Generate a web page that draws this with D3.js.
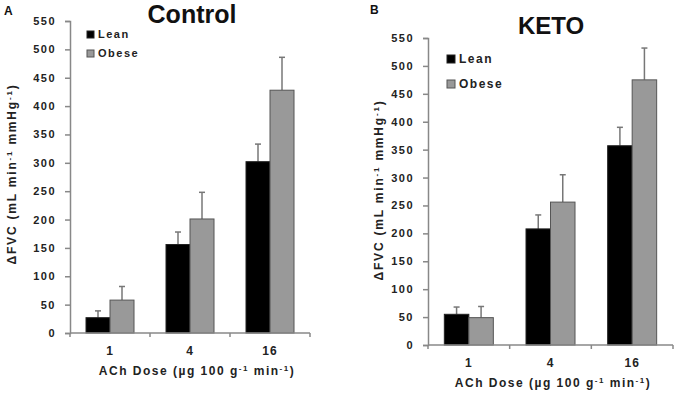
<!DOCTYPE html>
<html>
<head>
<meta charset="utf-8">
<script src="https://cdn.jsdelivr.net/npm/d3@7"></script>
<style>
  body { margin: 0; background: #fff; }
  svg text { font-family: Arial, "Liberation Sans", sans-serif; font-weight: bold; }
</style>
</head>
<body>
<div id="chart-container"></div>
<script>
// values
const doses = ["1", "4", "16"]
const groups = ["Lean", "Obese"]
const yTicks = [0, 50, 100, 150, 200, 250, 300, 350, 400, 450, 500, 550]

const controlLean = [27, 156, 302]
const controlLeanErr = [12, 22, 31]
const controlObese = [58, 201, 428]
const controlObeseErr = [24, 47, 58]

const ketoLean = [55, 208, 357]
const ketoLeanErr = [13, 25, 33]
const ketoObese = [49, 256, 475]
const ketoObeseErr = [20, 49, 57]

const colors = { Lean: "#000", Obese: "#999" }
const strokes = { Lean: "#222", Obese: "#555" }

const svg = d3.select("#chart-container")
  .append("svg")
    .attr("width", 680)
    .attr("height", 396)

function drawPanel(opt) {
  const y = d3.scaleLinear().domain([0, 550]).range([opt.y0, opt.y1])
  const x = d3.scaleBand()
    .domain(doses)
    .range([opt.x0, opt.x1])
    .paddingInner(0.4)
    .paddingOuter(0.2)
  const xs = d3.scaleBand().domain(groups).range([0, x.bandwidth()])

  const g = svg.append("g")

  // rows for bars
  const rows = []
  doses.forEach((d, i) => {
    rows.push({ dose: d, grp: "Lean", v: opt.lean[i], e: opt.leanErr[i] })
    rows.push({ dose: d, grp: "Obese", v: opt.obese[i], e: opt.obeseErr[i] })
  })

  // error bars first (behind bars)
  const eb = g.selectAll(".err").data(rows).join("g")
  eb.append("line")
    .attr("x1", d => x(d.dose) + xs(d.grp) + xs.bandwidth() / 2)
    .attr("x2", d => x(d.dose) + xs(d.grp) + xs.bandwidth() / 2)
    .attr("y1", d => y(d.v))
    .attr("y2", d => y(d.v + d.e))
    .attr("stroke", "#777").attr("stroke-width", 1.5)
  eb.append("line")
    .attr("x1", d => x(d.dose) + xs(d.grp) + xs.bandwidth() / 2 - 3)
    .attr("x2", d => x(d.dose) + xs(d.grp) + xs.bandwidth() / 2 + 3)
    .attr("y1", d => y(d.v + d.e))
    .attr("y2", d => y(d.v + d.e))
    .attr("stroke", "#777").attr("stroke-width", 1.5)

  g.selectAll(".bar").data(rows).join("rect")
    .attr("x", d => x(d.dose) + xs(d.grp))
    .attr("y", d => y(d.v))
    .attr("width", xs.bandwidth())
    .attr("height", d => y(0) - y(d.v))
    .attr("fill", d => colors[d.grp])
    .attr("stroke", d => strokes[d.grp])
    .attr("stroke-width", 1)

  // y axis
  const yAx = g.append("g")
    .attr("transform", `translate(${opt.x0},0)`)
    .call(d3.axisLeft(y).tickValues(yTicks).tickSize(5).tickPadding(9))
  yAx.select(".domain").attr("stroke", "#888").attr("stroke-width", 1.5)
  yAx.selectAll(".tick line").attr("stroke", "#888").attr("stroke-width", 1.5)
  yAx.selectAll(".tick text")
    .attr("fill", "#222")
    .style("font-size", "11px")
    .style("letter-spacing", "1.5px")

  // x axis: line with ticks at the band edges
  const step = x.step()
  const edges = d3.range(doses.length + 1).map(i => opt.x0 + i * step)
  g.append("line")
    .attr("x1", opt.x0).attr("x2", opt.x1)
    .attr("y1", y(0)).attr("y2", y(0))
    .attr("stroke", "#888").attr("stroke-width", 1.5)
  g.selectAll(".xt").data(edges).join("line")
    .attr("x1", d => d).attr("x2", d => d)
    .attr("y1", y(0)).attr("y2", y(0) + 4)
    .attr("stroke", "#888").attr("stroke-width", 1.5)
  g.selectAll(".xl").data(doses).join("text")
    .attr("x", d => x(d) + x.bandwidth() / 2)
    .attr("y", y(0) + 22)
    .attr("text-anchor", "middle")
    .attr("fill", "#222")
    .style("font-size", "12px")
    .style("letter-spacing", "1px")
    .text(d => d)

  // x axis title
  const xt = g.append("text")
    .attr("x", opt.xTitleX)
    .attr("y", y(0) + opt.xTitleDy)
    .attr("text-anchor", "middle")
    .attr("fill", "#222")
    .style("font-size", "12px")
    .style("letter-spacing", "1.5px")
  xt.append("tspan").text("ACh Dose (µg 100 g")
  xt.append("tspan").attr("baseline-shift", "super").style("font-size", "8px").text("-1")
  xt.append("tspan").text(" min")
  xt.append("tspan").attr("baseline-shift", "super").style("font-size", "8px").text("-1")
  xt.append("tspan").text(")")

  // y axis title
  const yt = g.append("text")
    .attr("transform", `translate(${opt.yTitleX},${opt.yTitleY}) rotate(-90)`)
    .attr("text-anchor", "middle")
    .attr("fill", "#222")
    .style("font-size", "12px")
    .style("letter-spacing", "1.8px")
  yt.append("tspan").text("ΔFVC (mL min")
  yt.append("tspan").attr("baseline-shift", "super").style("font-size", "8px").text("-1")
  yt.append("tspan").text(" mmHg")
  yt.append("tspan").attr("baseline-shift", "super").style("font-size", "8px").text("-1")
  yt.append("tspan").text(")")

  // title and panel letter
  g.append("text")
    .attr("x", opt.titleX).attr("y", opt.titleY)
    .attr("text-anchor", "middle")
    .attr("fill", "#111")
    .style("font-size", opt.titleSize + "px")
    .text(opt.title)
  g.append("text")
    .attr("x", opt.letterX).attr("y", opt.letterY)
    .attr("fill", "#111")
    .style("font-size", "12px")
    .text(opt.letter)

  // legend
  const leg = g.selectAll(".leg").data(groups).join("g")
    .attr("transform", (d, i) => `translate(${opt.legX},${opt.legY + i * opt.legGap})`)
  leg.append("rect")
    .attr("x", 0).attr("y", -opt.legBox)
    .attr("width", opt.legBox).attr("height", opt.legBox)
    .attr("fill", d => colors[d])
    .attr("stroke", d => strokes[d])
  leg.append("text")
    .attr("x", opt.legBox + 4).attr("y", 0)
    .attr("fill", "#222")
    .style("font-size", opt.legFont + "px")
    .style("letter-spacing", "1.5px")
    .text(d => d)
}

drawPanel({
  x0: 70, x1: 310, y0: 333, y1: 21,
  lean: controlLean, leanErr: controlLeanErr,
  obese: controlObese, obeseErr: controlObeseErr,
  title: "Control", titleX: 192, titleY: 23, titleSize: 25,
  letter: "A", letterX: 4, letterY: 15,
  xTitleX: 197, xTitleDy: 42,
  yTitleX: 16, yTitleY: 174,
  legX: 87, legY: 38, legGap: 19, legBox: 7, legFont: 11
})

drawPanel({
  x0: 428, x1: 673, y0: 345, y1: 38,
  lean: ketoLean, leanErr: ketoLeanErr,
  obese: ketoObese, obeseErr: ketoObeseErr,
  title: "KETO", titleX: 551, titleY: 34, titleSize: 24,
  letter: "B", letterX: 370, letterY: 14,
  xTitleX: 553, xTitleDy: 42,
  yTitleX: 383, yTitleY: 190,
  legX: 447, legY: 63, legGap: 25, legBox: 8, legFont: 12
})
</script>
</body>
</html>
